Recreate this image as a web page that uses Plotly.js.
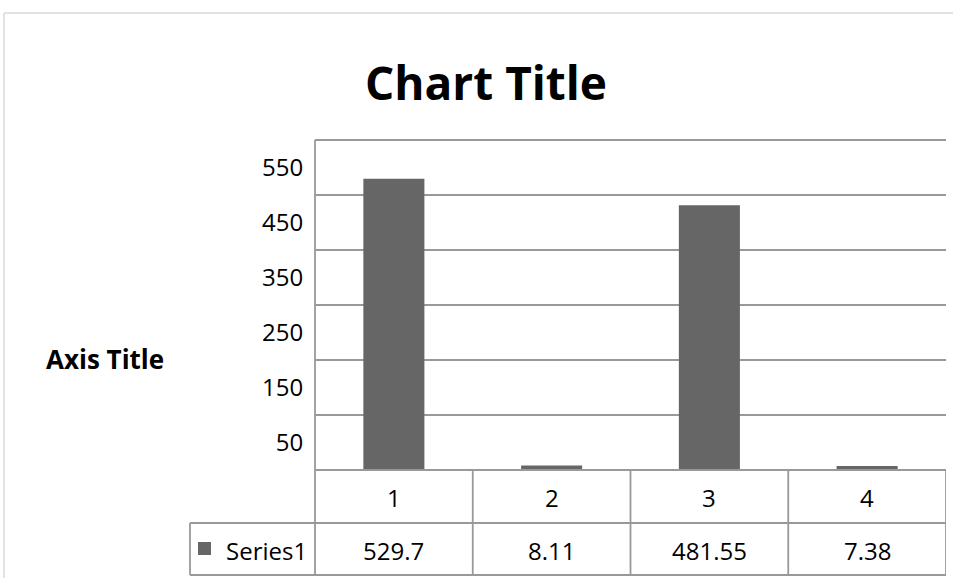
<!DOCTYPE html>
<html>
<head>
<meta charset="utf-8">
<script src="https://cdn.plot.ly/plotly-3.0.1.min.js"></script>
<style>html,body{margin:0;padding:0;background:#fff;}#chart{width:953px;height:578px;}</style>
</head>
<body>
<div id="chart"></div>
<script>
// ---- data ----
const categories = ['1', '2', '3', '4'];
const seriesName = 'Series1';
const seriesValues = [529.7, 8.11, 481.55, 7.38];
const tableLabels = ['529.7', '8.11', '481.55', '7.38'];
const yTickVals = [50, 150, 250, 350, 450, 550];
const yTickText = ['50', '150', '250', '350', '450', '550'];

// ---- layout geometry ----
const W = 953, H = 578;
const L = 315, R = 946, T = 140, B = 470;
const pw = R - L, ph = B - T;
const px = x => (x - L) / pw;        // pixel x -> paper x
const py = y => (B - y) / ph;        // pixel y -> paper y
const row1Bottom = 523, row2Bottom = 575, legendLeft = 190;
const lineCol = '#999999';
const lw = 1.8;
const font = 'Open Sans, Noto Sans, sans-serif';
const fs = 24;

const shapes = [];
const line = (x0, y0, x1, y1, xref, yref, color, w) => shapes.push({
  type: 'line', x0, y0, x1, y1, xref, yref,
  line: {color: color || lineCol, width: w || lw}, layer: 'above'
});
// outer chart border (partially cropped)
line(px(4), py(13), px(W + 5), py(13), 'paper', 'paper', '#d9d9d9', 1.5);
line(px(4), py(13), px(4), py(H + 5), 'paper', 'paper', '#d9d9d9', 1.5);
// top edge of plot area (600 gridline)
line(0, 1, 1, 1, 'paper', 'paper');
// value axis line extended through the table
line(0, 1, 0, py(row2Bottom), 'paper', 'paper');
// column separators of the data table
for (let i = 0; i < categories.length; i++) {
  line(i + 0.5, 0, i + 0.5, py(row2Bottom), 'x', 'paper');
}
// horizontal table lines
line(0, 0, 1, 0, 'paper', 'paper');
line(px(legendLeft), py(row1Bottom), 1, py(row1Bottom), 'paper', 'paper');
line(px(legendLeft), py(row2Bottom), 1, py(row2Bottom), 'paper', 'paper');
line(px(legendLeft), py(row1Bottom), px(legendLeft), py(row2Bottom), 'paper', 'paper');
// legend key
shapes.push({type: 'rect', xref: 'paper', yref: 'paper',
  x0: px(198), x1: px(211), y0: py(542), y1: py(555),
  fillcolor: '#666666', line: {width: 0}});

const annotations = [];
categories.forEach((c, i) => {
  annotations.push({x: i, xref: 'x', y: py((B + row1Bottom) / 2 + 1), yref: 'paper',
    text: c, showarrow: false, xanchor: 'center', yanchor: 'middle',
    font: {family: font, size: fs, color: '#000'}});
  annotations.push({x: i, xref: 'x', y: py((row1Bottom + row2Bottom) / 2 + 1), yref: 'paper',
    text: tableLabels[i], showarrow: false, xanchor: 'center', yanchor: 'middle',
    font: {family: font, size: fs, color: '#000'}});
});
annotations.push({x: px(224), xref: 'paper', y: py((row1Bottom + row2Bottom) / 2 + 1), yref: 'paper',
  text: seriesName, showarrow: false, xanchor: 'left', yanchor: 'middle',
  font: {family: font, size: fs, color: '#000'}});
annotations.push({x: px(105), xref: 'paper', y: py(359), yref: 'paper',
  text: 'Axis Title', showarrow: false, xanchor: 'center', yanchor: 'middle',
  font: {family: font, size: 26, color: '#000', weight: 700}});

const trace = {
  type: 'bar', x: categories, y: seriesValues, name: seriesName,
  marker: {color: '#666666', line: {width: 0}}, hoverinfo: 'skip'
};
// invisible trace on the grid axis
const gridTrace = {type: 'scatter', x: categories, y: seriesValues, yaxis: 'y2',
  mode: 'markers', marker: {opacity: 0}, hoverinfo: 'skip', showlegend: false};

const layout = {
  width: W, height: H,
  margin: {l: L, r: W - R, t: T, b: H - B, pad: 0},
  paper_bgcolor: '#ffffff', plot_bgcolor: '#ffffff',
  showlegend: false,
  bargap: 0.613,
  title: {text: 'Chart Title', x: 486 / W, xanchor: 'center', xref: 'container',
    y: 1 - 84 / H, yanchor: 'middle', yref: 'container',
    font: {family: font, size: 46, color: '#000', weight: 700}},
  xaxis: {type: 'category', showticklabels: false, showgrid: false, zeroline: false,
    showline: false, ticks: '', range: [-0.5, categories.length - 0.5]},
  yaxis: {range: [0, 600], tickmode: 'array', tickvals: yTickVals, ticktext: yTickText,
    showgrid: false, zeroline: false, showline: false,
    ticks: 'outside', ticklen: 6, tickcolor: 'rgba(0,0,0,0)',
    tickfont: {family: font, size: fs, color: '#000'}},
  yaxis2: {range: [0, 600], overlaying: 'y', side: 'left', dtick: 100, tick0: 0,
    showgrid: true, gridcolor: lineCol, gridwidth: lw, zeroline: false,
    showticklabels: false, ticks: '', showline: false},
  shapes, annotations
};

Plotly.newPlot('chart', [trace, gridTrace], layout, {staticPlot: true, displayModeBar: false});
</script>
</body>
</html>
